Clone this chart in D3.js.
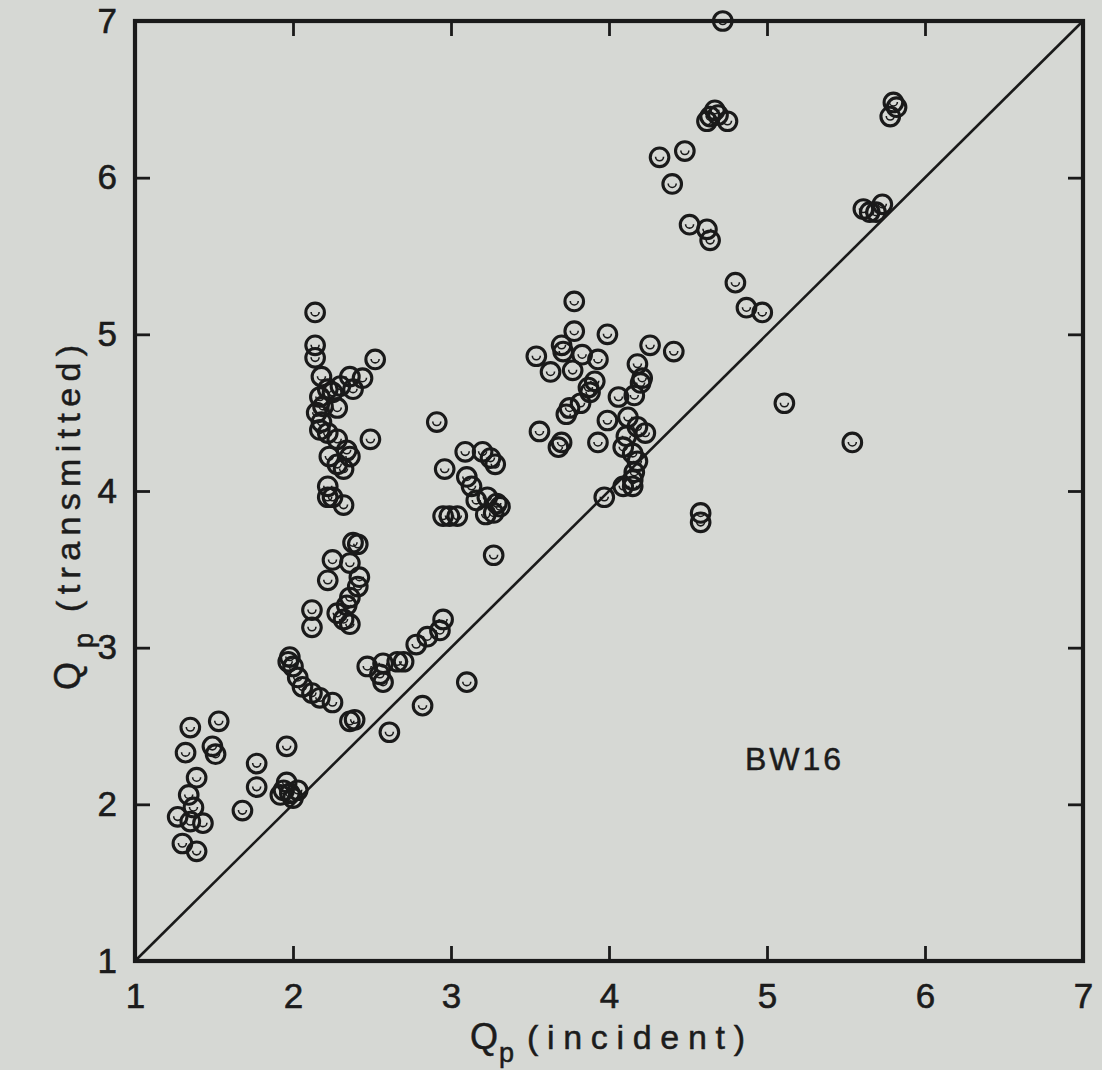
<!DOCTYPE html>
<html>
<head>
<meta charset="utf-8">
<script src="https://cdn.jsdelivr.net/npm/d3@7"></script>
<style>
  html, body { margin: 0; padding: 0; background: #d6d8d4; }
  svg { display: block; }
  text { font-family: "Liberation Sans", Arial, sans-serif; fill: #1c1c1c; }
</style>
</head>
<body>
<svg id="chart" width="1102" height="1070"></svg>
<script>
// ---- data ----
const qpIncident = [
  1.35,1.53,1.32,1.49,1.51,1.39,1.34,1.37,1.27,1.35,1.43,1.30,1.39,1.77,1.96,1.77,1.68,1.96,1.94,1.98,2.03,2.00,1.92,
  1.98,2.00,2.03,2.06,2.12,2.17,2.25,1.97,
  2.36,2.39,2.61,2.82,
  2.47,2.57,2.66,2.70,2.55,2.57,2.78,2.85,2.93,2.95,3.10,
  2.12,2.12,2.38,2.25,2.22,2.36,2.42,2.41,2.36,2.34,2.28,2.32,2.36,2.41,
  2.14,2.14,2.14,2.52,2.18,2.36,2.44,2.30,2.38,2.22,2.17,2.25,2.19,2.28,2.15,2.18,2.17,2.22,2.28,2.34,2.36,2.23,2.28,2.32,2.49,2.22,2.22,2.25,2.32,
  2.91,2.96,2.95,3.04,2.99,3.09,3.20,3.25,3.28,3.10,3.13,3.16,3.23,3.29,3.31,3.22,3.27,3.27,
  3.78,3.78,3.99,3.70,3.71,3.54,3.63,3.83,3.93,3.77,4.26,4.41,4.18,4.21,4.06,4.16,3.91,3.87,3.82,3.75,3.73,3.88,
  3.56,3.70,3.68,3.93,3.99,4.12,4.18,4.23,4.11,4.09,4.15,4.18,4.16,4.15,4.09,4.15,3.97,4.58,4.58,4.20,
  5.11,5.54,4.80,4.87,4.97,4.51,4.62,4.64,4.40,4.32,4.48,4.64,4.69,4.75,4.62,4.67,4.72,5.80,5.78,5.82,5.61,5.65,5.73,5.69
];
const qpTransmitted = [
  2.49,2.53,2.33,2.37,2.32,2.17,2.06,1.98,1.92,1.89,1.88,1.75,1.70,2.26,2.37,2.11,1.96,2.14,2.09,2.07,2.09,2.04,2.06,
  2.94,2.88,2.81,2.75,2.71,2.68,2.65,2.91,
  2.53,2.54,2.46,2.63,
  2.88,2.90,2.91,2.91,2.83,2.78,3.02,3.07,3.11,3.18,2.78,
  3.24,3.13,3.67,3.56,3.43,3.54,3.45,3.39,3.32,3.27,3.22,3.18,3.15,3.66,
  5.14,4.93,4.85,4.84,4.73,4.73,4.72,4.67,4.65,4.65,4.60,4.63,4.54,4.53,4.50,4.44,4.39,4.37,4.33,4.26,4.22,4.22,4.17,4.14,4.33,4.03,3.96,3.96,3.91,
  4.44,4.14,3.84,3.84,3.84,4.25,4.25,4.21,4.17,4.09,4.03,3.94,3.96,3.92,3.90,3.85,3.86,3.59,
  5.21,5.02,5.00,4.93,4.89,4.86,4.76,4.87,4.84,4.77,4.93,4.89,4.81,4.72,4.60,4.61,4.70,4.66,4.56,4.53,4.49,4.63,
  4.38,4.31,4.28,4.31,4.45,4.47,4.41,4.37,4.35,4.28,4.24,4.19,4.12,4.07,4.03,4.03,3.96,3.86,3.80,4.69,
  4.56,4.31,5.33,5.17,5.14,5.70,5.67,5.60,5.96,6.13,6.17,6.39,6.40,6.36,6.36,6.43,7.00,6.48,6.39,6.45,5.80,5.78,5.83,5.78
];
const tickValues = [1, 2, 3, 4, 5, 6, 7];
const tickLabels = ["1", "2", "3", "4", "5", "6", "7"];
const xTitle = ["Q", "p", "(incident)"];
const yTitle = ["Q", "p", "(transmitted)"];
const panelLabel = "BW16";

// ---- layout ----
const svg = d3.select("#chart");
const x = d3.scaleLinear().domain([1, 7]).range([135, 1083]);
const y = d3.scaleLinear().domain([1, 7]).range([961, 21]);
const ink = "#1a1a1a";

svg.append("rect").attr("width", 1102).attr("height", 1070).attr("fill", "#d6d8d4");

// axes (ticks inward)
function styleAxis(g) {
  g.select(".domain").remove();
  g.selectAll(".tick line").attr("stroke", ink).attr("stroke-width", 2.8);
  g.selectAll(".tick text").attr("fill", ink).style("font-size", "35px")
    .attr("stroke", ink).attr("stroke-width", 0.6)
    .style("font-family", "Liberation Sans, Arial, sans-serif");
}
const fmt = (d, i) => tickLabels[i];
svg.append("g").attr("transform", `translate(0,${y(1)})`)
  .call(d3.axisBottom(x).tickValues(tickValues).tickFormat(fmt).tickSizeInner(-15).tickSizeOuter(0).tickPadding(22))
  .call(styleAxis);
svg.append("g").attr("transform", `translate(${x(1)},0)`)
  .call(d3.axisLeft(y).tickValues(tickValues).tickFormat(fmt).tickSizeInner(-15).tickSizeOuter(0).tickPadding(18))
  .call(styleAxis);
svg.append("g").attr("transform", `translate(0,${y(7)})`)
  .call(d3.axisTop(x).tickValues(tickValues.slice(1, -1)).tickFormat("").tickSizeInner(-15).tickSizeOuter(0))
  .call(styleAxis);
svg.append("g").attr("transform", `translate(${x(7)},0)`)
  .call(d3.axisRight(y).tickValues(tickValues.slice(1, -1)).tickFormat("").tickSizeInner(-15).tickSizeOuter(0))
  .call(styleAxis);

// frame
svg.append("rect")
  .attr("x", x(1)).attr("y", y(7))
  .attr("width", x(7) - x(1)).attr("height", y(1) - y(7))
  .attr("fill", "none").attr("stroke", ink).attr("stroke-width", 4.2);

// 1:1 line
svg.append("line")
  .attr("x1", x(1)).attr("y1", y(1)).attr("x2", x(7)).attr("y2", y(7))
  .attr("stroke", ink).attr("stroke-width", 2.6);

// points
const pts = qpIncident.map((v, i) => ({ xi: v, yt: qpTransmitted[i] }));
const inner = d3.arc().innerRadius(3.2).outerRadius(4.8).startAngle(Math.PI * 0.5).endAngle(Math.PI * 1.5)();
const g = svg.append("g");
const mk = g.selectAll("g.pt").data(pts).join("g").attr("class", "pt")
  .attr("transform", d => `translate(${x(d.xi)},${y(d.yt)})`);
mk.append("circle").attr("r", 9.3).attr("fill", "none").attr("stroke", ink).attr("stroke-width", 3.1);
mk.append("path").attr("d", inner).attr("fill", ink).attr("transform", "translate(0,-0.5)");

// axis titles
const xt = svg.append("g");
xt.append("text").attr("x", 470).attr("y", 1049).style("font-size", "36px")
  .attr("stroke", ink).attr("stroke-width", 0.5).text(xTitle[0]);
xt.append("text").attr("x", 499).attr("y", 1062).style("font-size", "27px")
  .attr("stroke", ink).attr("stroke-width", 0.5).text(xTitle[1]);
xt.append("text").attr("x", 527).attr("y", 1049).style("font-size", "34px")
  .attr("stroke", ink).attr("stroke-width", 0.5)
  .attr("textLength", 218).attr("lengthAdjust", "spacing").text(xTitle[2]);

const yt = svg.append("g").attr("transform", "translate(80,0) rotate(-90)");
yt.append("text").attr("x", -690).attr("y", 0).style("font-size", "36px")
  .attr("stroke", ink).attr("stroke-width", 0.5).text(yTitle[0]);
yt.append("text").attr("x", -648).attr("y", 13).style("font-size", "27px")
  .attr("stroke", ink).attr("stroke-width", 0.5).text(yTitle[1]);
yt.append("text").attr("x", -612).attr("y", 0).style("font-size", "34px")
  .attr("stroke", ink).attr("stroke-width", 0.5)
  .attr("textLength", 267).attr("lengthAdjust", "spacing").text(yTitle[2]);

// panel label
svg.append("text").attr("x", 745).attr("y", 770).style("font-size", "32px")
  .attr("stroke", ink).attr("stroke-width", 0.5)
  .attr("textLength", 96).attr("lengthAdjust", "spacing").text(panelLabel);
</script>
</body>
</html>
